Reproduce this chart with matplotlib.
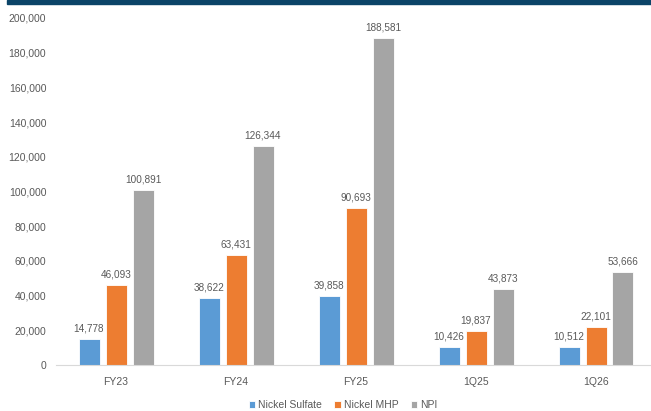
import matplotlib
matplotlib.use('Agg')
from matplotlib import pyplot as plt
import matplotlib.patches as mpatches
import numpy as np

categories = ['FY23', 'FY24', 'FY25', '1Q25', '1Q26']
nickel_sulfate = [14778, 38622, 39858, 10426, 10512]
nickel_mhp = [46093, 63431, 90693, 19837, 22101]
npi = [100891, 126344, 188581, 43873, 53666]
series_names = ['Nickel Sulfate', 'Nickel MHP', 'NPI']
colors = ['#5B9BD5', '#ED7D31', '#A5A5A5']

plt.rcParams['font.family'] = ['Liberation Sans', 'DejaVu Sans']
txt = '#595959'

fig = plt.figure(figsize=(6.51, 4.11), dpi=100)
# темная полоса сверху
fig.patches.append(mpatches.Rectangle((7 / 651, 407 / 411), 1, 4 / 411,
                                      transform=fig.transFigure, color='#0B4468'))

ax = fig.add_axes([56 / 651, 46 / 411, 600 / 651, 347 / 411])
x = np.arange(len(categories))
width = 0.175
step = 0.225
for i, (vals, name, c) in enumerate(zip([nickel_sulfate, nickel_mhp, npi], series_names, colors)):
    bars = ax.bar(x + (i - 1) * step, vals, width, color=c, label=name,
                  edgecolor='white', linewidth=0.6)
    for b, v in zip(bars, vals):
        ax.annotate(f'{v:,}', (b.get_x() + b.get_width() / 2, v), xytext=(0, 4),
                    textcoords='offset points', ha='center', va='bottom',
                    fontsize=7.2, color=txt)

ax.set_xlim(-0.5, len(categories) - 0.5)
ax.set_ylim(0, 200000)
ax.set_yticks(range(0, 200001, 20000))
ax.set_yticklabels([f'{v:,}' for v in range(0, 200001, 20000)])
ax.set_xticks(x)
ax.set_xticklabels(categories)
ax.tick_params(axis='both', length=0, labelsize=7.5, colors=txt)
ax.tick_params(axis='x', pad=8.5)
ax.tick_params(axis='y', pad=7)
for s in ['top', 'right', 'left']:
    ax.spines[s].set_visible(False)
ax.spines['bottom'].set_color('#D9D9D9')

fig.legend(loc='center', bbox_to_anchor=(343 / 651, 6 / 411), ncol=3, frameon=False,
           fontsize=7.5, labelcolor=txt, handlelength=0.6, handleheight=0.6,
           handletextpad=0.3, columnspacing=1.2)

fig.savefig('out.png', dpi=100)
